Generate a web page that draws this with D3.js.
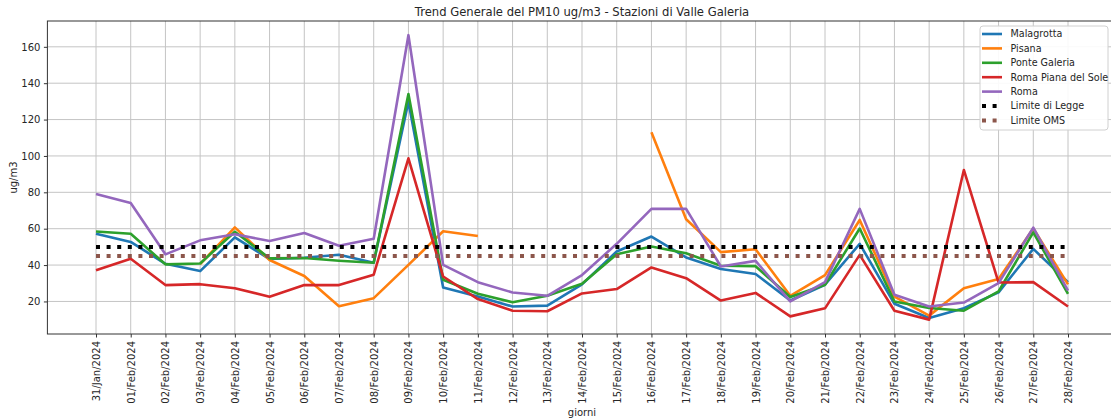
<!DOCTYPE html>
<html>
<head>
<meta charset="utf-8">
<script src="https://cdn.jsdelivr.net/npm/d3@7"></script>
<style>
  body { margin: 0; background: white; }
  text { font-family: 'DejaVu Sans', sans-serif; }
</style>
</head>
<body>
<div id="chart"></div>
<script>
// dates on the x axis
const giorni = ['31/Jan/2024'].concat(d3.range(1, 29).map(d => (d < 10 ? '0' + d : '' + d) + '/Feb/2024'))

// PM10 values (null = no data)
const malagrotta = [57.2, 52.7, 40.7, 36.7, 55.2, 43.3, 44.0, 45.7, 41.3, 129.8, 27.7, 22.7, 17.2, 17.7, 29.4, 47.5, 55.7, 44.2, 37.8, 35.1, 20.5, 29.2, 51.7, 18.7, 10.9, 16.3, 25.0, 48.9, 30.6]
const pisana = [null, null, null, 40.5, 60.7, 42.8, 34.0, 17.4, 21.8, 40.1, 58.6, 56.0, null, null, null, null, 113.0, 65.2, 47.1, 48.7, 23.1, 34.5, 64.8, 22.7, 12.2, 27.3, 32.3, 60.1, 29.4]
const ponteGaleria = [58.5, 57.2, 40.4, 40.9, 58.3, 43.7, 43.9, 42.4, 41.3, 134.0, 31.9, 24.2, 19.6, 23.1, 29.7, 46.0, 50.2, 46.5, 39.6, 39.4, 22.4, 29.2, 60.1, 20.0, 16.4, 14.9, 25.5, 58.0, 24.2]
const romaPiana = [37.2, 43.5, 29.0, 29.5, 27.3, 22.6, 29.0, 29.0, 34.7, 98.7, 33.7, 21.3, 14.9, 14.6, 24.4, 26.8, 38.7, 32.8, 20.5, 24.7, 11.8, 16.2, 45.6, 14.9, 10.0, 92.3, 30.4, 30.6, 17.2]
const roma = [79.1, 74.1, 45.9, 53.6, 56.9, 53.2, 57.6, 50.6, 54.5, 166.4, 40.1, 30.6, 24.9, 23.1, 34.5, 51.7, 70.9, 70.9, 39.2, 42.3, 20.0, 30.6, 70.9, 23.7, 17.2, 19.4, 30.1, 60.6, 26.0]
const limiteLegge = 50
const limiteOMS = 45

const yTicks = [20, 40, 60, 80, 100, 120, 140, 160]

const series = [
  { name: 'Malagrotta', values: malagrotta, color: '#1f77b4' },
  { name: 'Pisana', values: pisana, color: '#ff7f0e' },
  { name: 'Ponte Galeria', values: ponteGaleria, color: '#2ca02c' },
  { name: 'Roma Piana del Sole', values: romaPiana, color: '#d62728' },
  { name: 'Roma', values: roma, color: '#9467bd' },
  { name: 'Limite di Legge', values: giorni.map(() => limiteLegge), color: '#000000', dotted: true },
  { name: 'Limite OMS', values: giorni.map(() => limiteOMS), color: '#8c564b', dotted: true }
]

const margin = { top: 21, right: -5.6, bottom: 85, left: 47.4 }
const totalWidth = 1111
const totalHeight = 419
const width = totalWidth - margin.left - margin.right
const height = totalHeight - margin.top - margin.bottom

const svgRoot = d3.select('#chart')
  .append('svg')
  .attr('width', totalWidth)
  .attr('height', totalHeight)

const svg = svgRoot.append('g')
  .attr('transform', 'translate(' + margin.left + ',' + margin.top + ')')

const xScale = d3.scalePoint().domain(giorni).range([0, width]).padding(1.4)
const yScale = d3.scaleLinear().domain([2.1, 174.2]).range([height, 0])

// grid
svg.append('g')
  .selectAll('line')
  .data(giorni)
  .enter()
  .append('line')
  .attr('x1', d => xScale(d))
  .attr('x2', d => xScale(d))
  .attr('y1', 0)
  .attr('y2', height)
  .attr('stroke', '#c4c4c4')
  .attr('stroke-width', 1)

svg.append('g')
  .selectAll('line')
  .data(yTicks)
  .enter()
  .append('line')
  .attr('x1', 0)
  .attr('x2', width)
  .attr('y1', d => yScale(d))
  .attr('y2', d => yScale(d))
  .attr('stroke', '#c4c4c4')
  .attr('stroke-width', 1)

// axes
const xAxis = svg.append('g')
  .attr('transform', 'translate(0,' + height + ')')
  .call(d3.axisBottom(xScale).tickSize(3.5).tickSizeOuter(0))
xAxis.selectAll('text')
  .attr('transform', 'rotate(-90)')
  .attr('text-anchor', 'end')
  .attr('x', -7)
  .attr('y', 0)
  .attr('dy', '0.35em')
  .attr('font-size', 10)
  .attr('fill', '#262626')

const yAxis = svg.append('g')
  .call(d3.axisLeft(yScale).tickValues(yTicks).tickSize(3.5).tickSizeOuter(0).tickPadding(3.5))
yAxis.selectAll('text')
  .attr('font-size', 10)
  .attr('fill', '#262626')

svg.selectAll('.domain').remove()
svg.selectAll('.tick line').attr('stroke', '#333')

// frame
svg.append('rect')
  .attr('x', 0)
  .attr('y', 0)
  .attr('width', width)
  .attr('height', height)
  .attr('fill', 'none')
  .attr('stroke', '#333')
  .attr('stroke-width', 1)

// lines
const line = d3.line()
  .defined(d => d[1] != null)
  .x(d => xScale(d[0]))
  .y(d => yScale(d[1]))

svg.selectAll('.serie')
  .data(series)
  .enter()
  .append('path')
  .attr('class', 'serie')
  .attr('d', s => line(giorni.map((g, i) => [g, s.values[i]])))
  .attr('fill', 'none')
  .attr('stroke', s => s.color)
  .attr('stroke-width', s => s.dotted ? 4 : 2.6)
  .attr('stroke-dasharray', s => s.dotted ? '4,6.6' : null)
  .attr('stroke-linejoin', 'round')

// labels
svgRoot.append('text')
  .attr('x', margin.left + width / 2)
  .attr('y', 16)
  .attr('text-anchor', 'middle')
  .attr('font-size', 11.6)
  .attr('fill', '#262626')
  .text('Trend Generale del PM10 ug/m3 - Stazioni di Valle Galeria')

svgRoot.append('text')
  .attr('x', margin.left + width / 2)
  .attr('y', 416)
  .attr('text-anchor', 'middle')
  .attr('font-size', 10)
  .attr('fill', '#262626')
  .text('giorni')

svgRoot.append('text')
  .attr('transform', 'translate(17,' + (margin.top + height / 2) + ')rotate(-90)')
  .attr('text-anchor', 'middle')
  .attr('font-size', 10)
  .attr('fill', '#262626')
  .text('ug/m3')

// legend
const legend = svgRoot.append('g').attr('transform', 'translate(980,26)')
legend.append('rect')
  .attr('width', 128)
  .attr('height', 104)
  .attr('rx', 3)
  .attr('fill', 'white')
  .attr('fill-opacity', 0.9)
  .attr('stroke', '#d0d0d0')

const item = legend.selectAll('.item')
  .data(series)
  .enter()
  .append('g')
  .attr('class', 'item')
  .attr('transform', (d, i) => 'translate(0,' + (8 + i * 14.4) + ')')

item.append('line')
  .attr('x1', 2)
  .attr('x2', 22)
  .attr('stroke', d => d.color)
  .attr('stroke-width', d => d.dotted ? 4 : 2.6)
  .attr('stroke-dasharray', d => d.dotted ? '4,6.6' : null)

item.append('text')
  .attr('x', 30.5)
  .attr('dy', '0.35em')
  .attr('font-size', 9.6)
  .attr('fill', '#262626')
  .text(d => d.name)
</script>
</body>
</html>
